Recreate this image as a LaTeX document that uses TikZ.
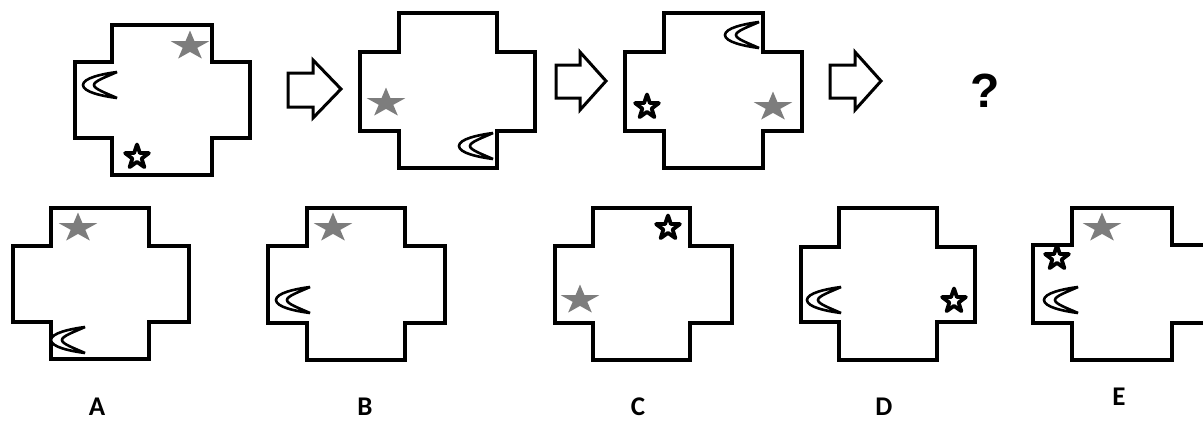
\documentclass[tikz,border=0pt]{standalone}
\usepackage{fontspec}
\setmainfont{Carlito}
\newfontfamily\qfont{Liberation Sans}
\begin{document}
\begin{tikzpicture}[x=1pt,y=-1pt,
  outl/.style={draw=black,line width=3.4pt,line join=miter,fill=white},
  arr/.style={draw=black,line width=3pt,line join=miter,fill=white},
  lbl/.style={font=\fontsize{27}{29}\selectfont\bfseries,inner sep=0pt},
  gstar/.pic={\fill[gray!98!black,xscale=1.3] (-90:15.5) -- (-54:5.9) -- (-18:15.5) -- (18:5.9) -- (54:15.5) -- (90:5.9) -- (126:15.5) -- (162:5.9) -- (198:15.5) -- (234:5.9) -- cycle;},
  ostar/.pic={\draw[black,line width=3.8pt,fill=white,line join=round] (-90:12.5) -- (-54:4.9) -- (-18:12.5) -- (18:4.9) -- (54:12.5) -- (90:4.9) -- (126:12.5) -- (162:4.9) -- (198:12.5) -- (234:4.9) -- cycle;},
  moon/.pic={\draw[black,line width=2.6pt,fill=white,line join=miter,miter limit=3] (17,-13) .. controls (2,-11) and (-17,-7) .. (-17,0) .. controls (-17,7) and (2,11) .. (17,13) .. controls (6,8) and (-6,4) .. (-6,0) .. controls (-6,-4) and (6,-8) .. (17,-13) -- cycle;}
]
\useasboundingbox (0,0) rectangle (1203,421);
\fill[white] (0,0) rectangle (1203,421);
\newcommand\crossbox[8]{\path[outl] (#2,#5) -- (#3,#5) -- (#3,#6) -- (#4,#6) -- (#4,#7) -- (#3,#7) -- (#3,#8) -- (#2,#8) -- (#2,#7) -- (#1,#7) -- (#1,#6) -- (#2,#6) -- cycle;}
% top row
\crossbox{75}{112}{212}{250}{25}{62}{138}{175}
\crossbox{360}{399}{497}{535}{13}{52}{131}{168}
\crossbox{625}{664}{763}{802}{13}{52}{131}{168}
% answers
\crossbox{13}{51}{149}{189}{208}{246}{322}{359}
\crossbox{268}{307}{405}{445}{208}{246}{323}{360}
\crossbox{555}{593}{690}{732}{208}{246}{323}{360}
\crossbox{801}{839}{937}{975}{208}{247}{322}{360}
\crossbox{1033}{1072}{1172}{1210}{208}{245}{323}{360}
% arrows
\path[arr] (288,73) -- (313,73) -- (313,60) -- (341,89) -- (313,118) -- (313,107) -- (288,107) -- cycle;
\path[arr] (556,65) -- (580,65) -- (580,52) -- (606,81) -- (580,110) -- (580,98) -- (556,98) -- cycle;
\path[arr] (830,65) -- (855,65) -- (855,52) -- (881,81) -- (855,110) -- (855,98) -- (830,98) -- cycle;
\node[inner sep=0pt,font=\qfont\bfseries\fontsize{48}{50}\selectfont] (q) at (985,91) {?};
% cross 1
\pic at (190,46) {gstar};
\pic at (100,85) {moon};
\pic at (137,157) {ostar};
% cross 2
\pic at (386,103) {gstar};
\pic at (476,146) {moon};
% cross 3
\pic at (742,35) {moon};
\pic at (647,107) {ostar};
\pic at (773,107) {gstar};
% A
\pic at (78,228) {gstar};
\pic at (68,340) {moon};
% B
\pic at (333,228) {gstar};
\pic at (293,300) {moon};
% C
\pic at (668,228) {ostar};
\pic at (580,300) {gstar};
% D
\pic at (824,300) {moon};
\pic at (954,301) {ostar};
% E
\pic at (1102,228) {gstar};
\pic at (1057,258) {ostar};
\pic at (1061,300) {moon};
% labels
\node[lbl] (la) at (97,407) {A};
\node[lbl] (lb) at (365,407) {B};
\node[lbl] (lc) at (638,407) {C};
\node[lbl] (ld) at (884,407) {D};
\node[lbl] (le) at (1119,397) {E};
\end{tikzpicture}
\end{document}
